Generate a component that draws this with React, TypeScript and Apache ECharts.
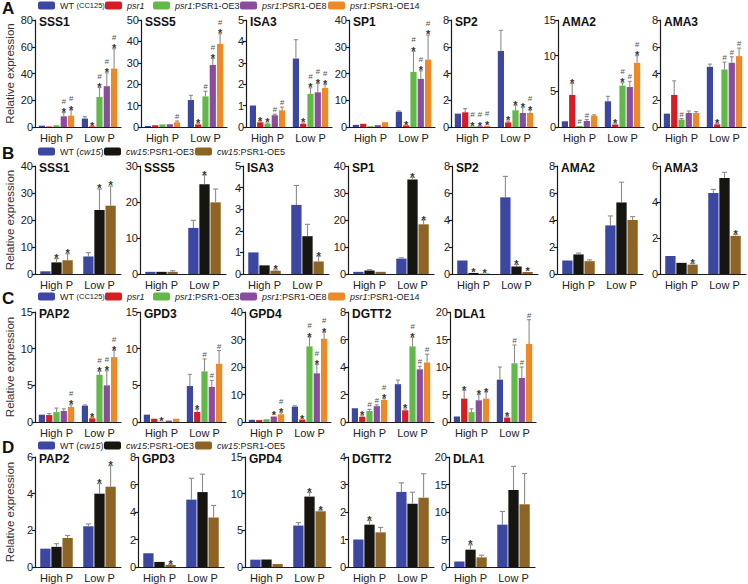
import React, { useEffect, useRef } from 'react';
import * as echarts from 'echarts';

// ---------------- Data ----------------
const CATEGORIES = ['High P', 'Low P'];
const GENO_PSR = ['WT (CC125)', 'psr1', 'psr1:PSR1-OE3', 'psr1:PSR1-OE8', 'psr1:PSR1-OE14'];
const GENO_CW = ['WT (cw15)', 'cw15:PSR1-OE3', 'cw15:PSR1-OE5'];

// rows = genotype, columns = [High P, Low P]
// Panel A
const A_SSS1_MEAN = [[1.0, 6.3], [0.4, 0.5], [1.3, 22.5], [8.0, 30.5], [8.5, 43.7]];
const A_SSS1_ERR = [[0.2, 1.4], [0.1, 0.2], [0.3, 7.0], [2.8, 10.0], [4.2, 14.8]];
const A_SSS1_SIG = [['', ''], ['', '*'], ['', '*#'], ['*#', '*#'], ['*#', '*#']];

const A_SSS5_MEAN = [[0.5, 12.6], [0.8, 1.2], [1.2, 14.3], [1.3, 29.0], [2.2, 38.8]];
const A_SSS5_ERR = [[0.1, 2.2], [0.1, 0.3], [0.2, 2.4], [0.2, 3.0], [0.6, 4.8]];
const A_SSS5_SIG = [['', ''], ['', '*'], ['', '#'], ['', '*#'], ['#', '*#']];

const A_ISA3_MEAN = [[1.0, 3.2], [0.22, 0.15], [0.15, 1.55], [0.55, 1.62], [0.78, 1.83]];
const A_ISA3_ERR = [[0, 0.88], [0.06, 0.04], [0.04, 0.28], [0.05, 0.42], [0.15, 0.15]];
const A_ISA3_SIG = [['', ''], ['*', '*'], ['*', '*#'], ['#', '*#'], ['#', '*#']];

const A_SP1_MEAN = [[0.8, 5.7], [1.2, 0.6], [0.3, 20.6], [0.7, 18.0], [1.8, 25.2]];
const A_SP1_ERR = [[0.1, 0.3], [0.2, 0.1], [0.1, 7.7], [0.1, 3.0], [0.2, 9.2]];
const A_SP1_SIG = [['', ''], ['', '*'], ['', '*#'], ['', '*#'], ['', '*#']];

const A_SP2_MEAN = [[1.0, 5.68], [1.1, 0.35], [0.05, 1.25], [0.05, 1.05], [0.1, 1.05]];
const A_SP2_ERR = [[0, 1.55], [0.28, 0.1], [0.02, 0.38], [0.02, 0.4], [0.03, 0.22]];
const A_SP2_SIG = [['', ''], ['', '*'], ['*#', '*'], ['*#', '*'], ['*#', '*#']];

const A_AMA2_MEAN = [[0.8, 3.6], [4.5, 0.35], [0.15, 5.8], [0.85, 5.6], [1.6, 9.0]];
const A_AMA2_ERR = [[0, 0.7], [1.6, 0.1], [0.05, 0.4], [0.2, 0.8], [0.1, 1.0]];
const A_AMA2_SIG = [['', ''], ['*', '*'], ['#', '*#'], ['#', '#'], ['', '*#']];

const A_AMA3_MEAN = [[1.0, 4.5], [2.4, 0.2], [0.55, 4.3], [1.05, 4.8], [1.05, 5.3]];
const A_AMA3_ERR = [[0, 0.2], [1.05, 0.05], [0.08, 0.55], [0.15, 0.45], [0.1, 0.6]];
const A_AMA3_SIG = [['', ''], ['', '*'], ['#', '#'], ['', '#'], ['', '#']];

// Panel B
const B_SSS1_MEAN = [[1.0, 6.5], [4.3, 23.7], [5.1, 25.3]];
const B_SSS1_ERR = [[0, 1.4], [1.4, 7.8], [2.4, 7.3]];
const B_SSS1_SIG = [['', ''], ['*', '*'], ['*', '*']];

const B_SSS5_MEAN = [[0.6, 12.8], [0.6, 24.9], [0.6, 19.9]];
const B_SSS5_ERR = [[0, 2.1], [0.1, 2.6], [0.3, 3.7]];
const B_SSS5_SIG = [['', ''], ['', '*'], ['', '']];

const B_ISA3_MEAN = [[1.0, 3.2], [0.4, 1.75], [0.15, 0.58]];
const B_ISA3_ERR = [[0, 0.9], [0.02, 0.55], [0.04, 0.25]];
const B_ISA3_SIG = [['', ''], ['', ''], ['*', '*']];

const B_SP1_MEAN = [[0.8, 5.7], [1.3, 35.0], [0.8, 18.4]];
const B_SP1_ERR = [[0.1, 0.3], [0.3, 0.8], [0.2, 1.6]];
const B_SP1_SIG = [['', ''], ['', '*'], ['', '*']];

const B_SP2_MEAN = [[1.0, 5.68], [0.08, 0.55], [0.03, 0.15]];
const B_SP2_ERR = [[0, 1.55], [0.02, 0.15], [0.01, 0.04]];
const B_SP2_SIG = [['', ''], ['*', '*'], ['*', '*']];

const B_AMA2_MEAN = [[1.0, 3.6], [1.45, 5.3], [0.95, 4.0]];
const B_AMA2_ERR = [[0, 0.7], [0.1, 1.5], [0.1, 0.25]];
const B_AMA2_SIG = [['', ''], ['', ''], ['', '']];

const B_AMA3_MEAN = [[1.0, 4.5], [0.62, 5.33], [0.52, 2.12]];
const B_AMA3_ERR = [[0, 0.2], [0.03, 0.32], [0.06, 0.08]];
const B_AMA3_SIG = [['', ''], ['', ''], ['*', '*']];

// Panel C
const C_PAP2_MEAN = [[1.0, 2.23], [0.95, 0.5], [1.35, 6.45], [1.5, 5.0], [2.05, 8.85]];
const C_PAP2_ERR = [[0, 0.1], [0.2, 0.1], [0.55, 0.45], [0.3, 2.0], [0.3, 0.9]];
const C_PAP2_SIG = [['', ''], ['', '*'], ['', '*#'], ['', '*#'], ['*#', '*#']];

const C_GPD3_MEAN = [[1.0, 4.9], [0.45, 1.36], [0.05, 6.9], [0.2, 4.77], [0.45, 7.95]];
const C_GPD3_ERR = [[0, 1.6], [0.05, 0.35], [0.02, 1.7], [0.03, 0.9], [0.05, 1.8]];
const C_GPD3_SIG = [['', ''], ['', '*'], ['*', '#'], ['', '#'], ['', '#']];

const C_GPD4_MEAN = [[0.8, 5.6], [0.7, 0.9], [1.0, 27.5], [2.0, 17.7], [2.8, 30.3]];
const C_GPD4_ERR = [[0, 0.3], [0.1, 0.1], [0.1, 3.4], [0.2, 3.2], [0.6, 2.3]];
const C_GPD4_SIG = [['', ''], ['', '*'], ['', '*#'], ['*', '*#'], ['*#', '*#']];

const C_DGTT2_MEAN = [[1.0, 2.75], [0.38, 0.85], [0.8, 5.5], [1.15, 3.83], [1.6, 4.33]];
const C_DGTT2_ERR = [[0, 0.3], [0.07, 0.1], [0.12, 0.65], [0.1, 0.22], [0.1, 0.6]];
const C_DGTT2_SIG = [['', ''], ['*', '*'], ['#', '*#'], ['#', '#'], ['*#', '#']];

const C_DLA1_MEAN = [[1.0, 7.7], [4.25, 0.8], [1.8, 10.7], [3.95, 8.0], [4.25, 14.2]];
const C_DLA1_ERR = [[0, 2.3], [1.5, 0.15], [0.6, 3.3], [1.05, 2.0], [1.2, 4.4]];
const C_DLA1_SIG = [['', ''], ['*', '*'], ['', '#'], ['*', '#'], ['*', '#']];

// Panel D
const D_PAP2_MEAN = [[1.0, 2.22], [1.1, 4.0], [1.58, 4.38]];
const D_PAP2_ERR = [[0, 0.13], [0.17, 0.55], [0.14, 1.15]];
const D_PAP2_SIG = [['', ''], ['', '*'], ['', '*']];

const D_GPD3_MEAN = [[1.0, 4.9], [0.37, 5.45], [0.15, 3.6]];
const D_GPD3_ERR = [[0, 1.55], [0.03, 1.3], [0.05, 0.88]];
const D_GPD3_SIG = [['', ''], ['', ''], ['*', '']];

const D_GPD4_MEAN = [[1.0, 5.65], [1.02, 9.6], [0.4, 7.6]];
const D_GPD4_ERR = [[0, 0.4], [0.05, 0.55], [0.05, 0.15]];
const D_GPD4_SIG = [['', ''], ['', '*'], ['', '*']];

const D_DGTT2_MEAN = [[1.0, 2.73], [1.54, 2.3], [1.26, 2.52]];
const D_DGTT2_ERR = [[0, 0.33], [0.15, 0.42], [0.18, 0.87]];
const D_DGTT2_SIG = [['', ''], ['*', ''], ['', '']];

const D_DLA1_MEAN = [[1.0, 7.7], [3.15, 14.0], [1.75, 11.4]];
const D_DLA1_ERR = [[0, 2.4], [0.9, 4.3], [0.4, 5.6]];
const D_DLA1_SIG = [['', ''], ['*', ''], ['', '']];

// ---------------- Layout / style ----------------
const FONT = '"Liberation Sans", Arial, Helvetica, sans-serif';
const COLORS_PSR = ['#3B47A0', '#D71D24', '#62B849', '#8B4C9D', '#EC8A28'];
const COLORS_CW = ['#3B47A0', '#17150F', '#8E6424'];
const GRID_W = 86;

type Panel = { gene: string; mean: number[][]; err: number[][]; sig: string[][]; max: number; interval: number };
type Row = {
  letter: string; letterTop: number; legendCenter: number; top: number; height: number; lefts: number[]; legendX: number[];
  names: string[]; colors: string[]; barWidth: number; barGapPx: number; panels: Panel[];
};

const ROWS: Row[] = [
  {
    letter: 'A', letterTop: 0, legendCenter: 7, top: 20, height: 107, lefts: [35, 141, 246, 349, 451, 558, 660],
    legendX: [38, 105, 153, 240, 328], names: GENO_PSR, colors: COLORS_PSR, barWidth: 6.2, barGapPx: 1.1,
    panels: [
      { gene: 'SSS1', mean: A_SSS1_MEAN, err: A_SSS1_ERR, sig: A_SSS1_SIG, max: 80, interval: 20 },
      { gene: 'SSS5', mean: A_SSS5_MEAN, err: A_SSS5_ERR, sig: A_SSS5_SIG, max: 50, interval: 10 },
      { gene: 'ISA3', mean: A_ISA3_MEAN, err: A_ISA3_ERR, sig: A_ISA3_SIG, max: 5, interval: 1 },
      { gene: 'SP1', mean: A_SP1_MEAN, err: A_SP1_ERR, sig: A_SP1_SIG, max: 40, interval: 10 },
      { gene: 'SP2', mean: A_SP2_MEAN, err: A_SP2_ERR, sig: A_SP2_SIG, max: 8, interval: 2 },
      { gene: 'AMA2', mean: A_AMA2_MEAN, err: A_AMA2_ERR, sig: A_AMA2_SIG, max: 15, interval: 5 },
      { gene: 'AMA3', mean: A_AMA3_MEAN, err: A_AMA3_ERR, sig: A_AMA3_SIG, max: 8, interval: 2 },
    ],
  },
  {
    letter: 'B', letterTop: 145, legendCenter: 153, top: 166, height: 108, lefts: [35, 140, 243, 348, 452, 557, 660],
    legendX: [38, 104, 195], names: GENO_CW, colors: COLORS_CW, barWidth: 10.3, barGapPx: 0.8,
    panels: [
      { gene: 'SSS1', mean: B_SSS1_MEAN, err: B_SSS1_ERR, sig: B_SSS1_SIG, max: 40, interval: 10 },
      { gene: 'SSS5', mean: B_SSS5_MEAN, err: B_SSS5_ERR, sig: B_SSS5_SIG, max: 30, interval: 10 },
      { gene: 'ISA3', mean: B_ISA3_MEAN, err: B_ISA3_ERR, sig: B_ISA3_SIG, max: 5, interval: 1 },
      { gene: 'SP1', mean: B_SP1_MEAN, err: B_SP1_ERR, sig: B_SP1_SIG, max: 40, interval: 10 },
      { gene: 'SP2', mean: B_SP2_MEAN, err: B_SP2_ERR, sig: B_SP2_SIG, max: 8, interval: 2 },
      { gene: 'AMA2', mean: B_AMA2_MEAN, err: B_AMA2_ERR, sig: B_AMA2_SIG, max: 8, interval: 2 },
      { gene: 'AMA3', mean: B_AMA3_MEAN, err: B_AMA3_ERR, sig: B_AMA3_SIG, max: 6, interval: 2 },
    ],
  },
  {
    letter: 'C', letterTop: 290, legendCenter: 298, top: 312, height: 110, lefts: [35, 140, 245, 348, 450],
    legendX: [38, 105, 153, 240, 328], names: GENO_PSR, colors: COLORS_PSR, barWidth: 6.2, barGapPx: 1.1,
    panels: [
      { gene: 'PAP2', mean: C_PAP2_MEAN, err: C_PAP2_ERR, sig: C_PAP2_SIG, max: 15, interval: 5 },
      { gene: 'GPD3', mean: C_GPD3_MEAN, err: C_GPD3_ERR, sig: C_GPD3_SIG, max: 15, interval: 5 },
      { gene: 'GPD4', mean: C_GPD4_MEAN, err: C_GPD4_ERR, sig: C_GPD4_SIG, max: 40, interval: 10 },
      { gene: 'DGTT2', mean: C_DGTT2_MEAN, err: C_DGTT2_ERR, sig: C_DGTT2_SIG, max: 8, interval: 2 },
      { gene: 'DLA1', mean: C_DLA1_MEAN, err: C_DLA1_ERR, sig: C_DLA1_SIG, max: 20, interval: 5 },
    ],
  },
  {
    letter: 'D', letterTop: 439, legendCenter: 447, top: 457, height: 110, lefts: [35, 138, 245, 348, 449],
    legendX: [38, 104, 195], names: GENO_CW, colors: COLORS_CW, barWidth: 10.3, barGapPx: 0.8,
    panels: [
      { gene: 'PAP2', mean: D_PAP2_MEAN, err: D_PAP2_ERR, sig: D_PAP2_SIG, max: 6, interval: 2 },
      { gene: 'GPD3', mean: D_GPD3_MEAN, err: D_GPD3_ERR, sig: D_GPD3_SIG, max: 8, interval: 2 },
      { gene: 'GPD4', mean: D_GPD4_MEAN, err: D_GPD4_ERR, sig: D_GPD4_SIG, max: 15, interval: 5 },
      { gene: 'DGTT2', mean: D_DGTT2_MEAN, err: D_DGTT2_ERR, sig: D_DGTT2_SIG, max: 4, interval: 1 },
      { gene: 'DLA1', mean: D_DLA1_MEAN, err: D_DLA1_ERR, sig: D_DLA1_SIG, max: 20, interval: 5 },
    ],
  },
];

function legendFormatter(n: string) {
  let s = n.replace(/(psr1|cw15)/g, '{i|$1}');
  s = s.replace('(CC125)', '{s|(CC125)}');
  return s;
}

function buildOption() {
  const grid: any[] = [];
  const xAxis: any[] = [];
  const yAxis: any[] = [];
  const series: any[] = [];
  const title: any[] = [];
  const legend: any[] = [];
  const axisColor = '#1a1a1a';

  ROWS.forEach((row) => {
    title.push({
      text: row.letter, left: 2, top: row.letterTop, padding: 0,
      textStyle: { fontSize: 17, fontWeight: 'bold', color: '#111', fontFamily: FONT },
    });
    row.names.forEach((name, i) => {
      legend.push({
        data: [name], left: row.legendX[i], top: row.legendCenter - 6, padding: 0,
        icon: 'roundRect', itemWidth: 17, itemHeight: 8, selectedMode: false,
        itemStyle: { color: row.colors[i] },
        formatter: legendFormatter,
        textStyle: {
          fontSize: 9, color: '#222', fontFamily: FONT,
          rich: {
            i: { fontStyle: 'italic', fontSize: 9, color: '#222', fontFamily: FONT },
            s: { fontSize: 7.5, color: '#222', fontFamily: FONT },
          },
        },
      });
    });

    row.panels.forEach((p, col) => {
      const g = grid.length;
      const left = row.lefts[col];
      grid.push({ left, top: row.top, width: GRID_W, height: row.height, containLabel: false });
      title.push({
        text: p.gene, left: left + 4, top: row.top - 4, padding: 0,
        textStyle: { fontSize: 12, fontWeight: 'bold', color: '#111', fontFamily: FONT },
      });
      xAxis.push({
        type: 'category', gridIndex: g, data: CATEGORIES,
        axisLine: { lineStyle: { color: axisColor, width: 1.2 } },
        axisTick: { alignWithLabel: true, length: 3, interval: 0, lineStyle: { color: axisColor, width: 1.2 } },
        axisLabel: { fontSize: 11, color: '#222', margin: 5, interval: 0, fontFamily: FONT },
      });
      const y: any = {
        type: 'value', gridIndex: g, min: 0, max: p.max, interval: p.interval,
        splitLine: { show: false },
        axisLine: { show: true, lineStyle: { color: axisColor, width: 1.2 } },
        axisTick: { show: true, length: 3, lineStyle: { color: axisColor, width: 1.2 } },
        axisLabel: { fontSize: 11, color: '#222', margin: 2, fontFamily: FONT },
      };
      if (col === 0) {
        y.name = 'Relative expression';
        y.nameLocation = 'middle';
        y.nameGap = 19;
        y.nameTextStyle = { fontSize: 11.5, color: '#333', fontFamily: FONT };
      }
      yAxis.push(y);

      const n = row.names.length;
      const pitch = row.barWidth + row.barGapPx;
      const barGapPct = ((row.barGapPx / row.barWidth) * 100).toFixed(1) + '%';
      const errItems: any[] = [];
      const errSig: string[] = [];
      row.names.forEach((name, gi) => {
        series.push({
          type: 'bar', name, xAxisIndex: g, yAxisIndex: g,
          data: p.mean[gi], barWidth: row.barWidth, barGap: barGapPct,
          itemStyle: { color: row.colors[gi] }, silent: true,
        });
        CATEGORIES.forEach((_, ci) => {
          errItems.push([ci, p.mean[gi][ci], p.err[gi][ci], gi]);
          errSig.push(p.sig[gi][ci]);
        });
      });
      const cap = row.barWidth > 8 ? 2.6 : 2.0;
      series.push({
        type: 'custom', name: 'error', xAxisIndex: g, yAxisIndex: g, z: 5, silent: true,
        data: errItems, encode: { x: 0, y: 1 },
        renderItem: (params: any, api: any) => {
          const ci = api.value(0);
          const m = api.value(1);
          const e = api.value(2);
          const gi = api.value(3);
          const base = api.coord([ci, m]);
          const top = api.coord([ci, m + e]);
          const x = base[0] + (gi - (n - 1) / 2) * pitch;
          const children: any[] = [];
          const ls = { stroke: '#8c8c8c', lineWidth: 1.1 };
          if (e > 0 && base[1] - top[1] > 0.6) {
            children.push({ type: 'line', shape: { x1: x, y1: base[1], x2: x, y2: top[1] }, style: ls });
            children.push({ type: 'line', shape: { x1: x - cap, y1: top[1], x2: x + cap, y2: top[1] }, style: ls });
          }
          const sig = errSig[params.dataIndex] || '';
          const yy = Math.min(base[1], top[1]);
          const hasStar = sig.indexOf('*') >= 0;
          if (hasStar) {
            children.push({
              type: 'text',
              style: {
                text: '*', x, y: yy - 0.5, align: 'center', verticalAlign: 'middle',
                fontSize: 11, fontWeight: 'bold', fontFamily: FONT, fill: '#333',
              },
            });
          }
          if (sig.indexOf('#') >= 0) {
            children.push({
              type: 'text',
              style: {
                text: '#', x, y: hasStar ? yy - 11.4 : yy - 4.5, align: 'center', verticalAlign: 'middle',
                fontSize: 8, fontStyle: 'italic', fontFamily: FONT, fill: '#555',
              },
            });
          }
          return { type: 'group', children };
        },
      });
    });
  });

  return {
    animation: false,
    backgroundColor: '#ffffff',
    textStyle: { fontFamily: FONT },
    title, legend, grid, xAxis, yAxis, series,
  };
}

export default function App() {
  const ref = useRef<HTMLDivElement>(null);
  useEffect(() => {
    document.body.style.margin = '0';
    if (!ref.current) return;
    const chart = echarts.init(ref.current, undefined, { renderer: 'svg' });
    chart.setOption(buildOption() as any);
    return () => chart.dispose();
  }, []);
  return <div ref={ref} style={{ position: 'fixed', left: 0, top: 0, width: 748, height: 584, background: '#fff' }} />;
}
